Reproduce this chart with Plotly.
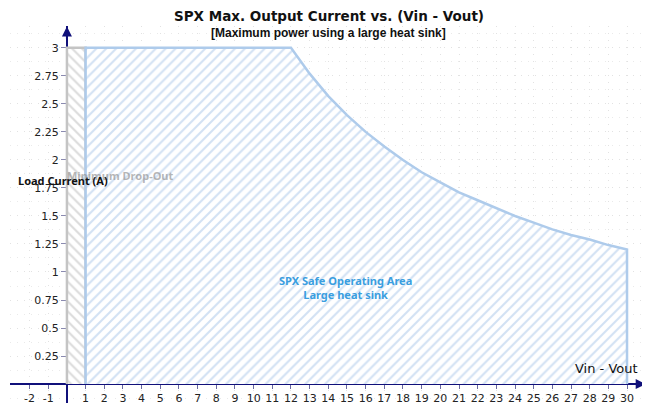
import plotly.graph_objects as go

# Vin - Vout (V) and max load current (A)
soa_x = [1, 1, 12, 13, 14, 15, 16, 17, 18, 19, 20, 21, 22, 23, 24, 25, 26, 27, 28, 29, 30, 30]
soa_y = [0, 3, 3, 2.77, 2.57, 2.4, 2.25, 2.12, 2.0, 1.89, 1.8, 1.71, 1.64, 1.57, 1.5, 1.44,
         1.38, 1.33, 1.29, 1.24, 1.2, 0]

dropout_x = [0, 0, 1, 1]
dropout_y = [0, 3, 3, 0]

x_ticks = [-2, -1] + list(range(1, 31))
x_tick_text = ["-2", "-1"] + [str(v) for v in range(1, 31)]
y_ticks = [0.25, 0.5, 0.75, 1, 1.25, 1.5, 1.75, 2, 2.25, 2.5, 2.75, 3]
y_tick_text = ["0.25", "0.5", "0.75", "1", "1.25", "1.5", "1.75", "2", "2.25", "2.5", "2.75", "3"]

x_range = [-3.05, 31.07]
y_range = [-0.169, 3.195]

navy = "#10107a"
tick_font = dict(family="DejaVu Sans", size=11, color="#222222")

fig = go.Figure()

fig.add_trace(go.Scatter(
    x=dropout_x, y=dropout_y, mode="lines", fill="toself",
    line=dict(color="#c4c4c4", width=2.5),
    fillcolor="rgba(0,0,0,0)",
    fillpattern=dict(shape="\\", fgcolor="#b8b8b8", bgcolor="white", size=7, solidity=0.3),
    hoverinfo="skip", showlegend=False,
))

fig.add_trace(go.Scatter(
    x=soa_x, y=soa_y, mode="lines", fill="toself",
    line=dict(color="#aecbeb", width=2.5),
    fillcolor="rgba(0,0,0,0)",
    fillpattern=dict(shape="/", fgcolor="#a6c4e8", bgcolor="white", size=7, solidity=0.3),
    hoverinfo="skip", showlegend=False,
))

# the page body has an 8px margin, so the figure is 8px smaller than the window
fig.update_layout(
    width=642, height=399,
    margin=dict(l=2, r=3, t=18, b=2),
    plot_bgcolor="white", paper_bgcolor="white",
    xaxis=dict(
        range=x_range, anchor="free",
        position=(0 - y_range[0]) / (y_range[1] - y_range[0]),
        tickvals=x_ticks, ticktext=x_tick_text, ticks="outside", ticklen=4,
        tickcolor="#6a6aa0", tickfont=tick_font,
        showline=True, linecolor=navy, linewidth=2, zeroline=False,
        showgrid=True, gridcolor="#e2e2e2", griddash="1px,6px", gridwidth=1,
        layer="below traces",
    ),
    yaxis=dict(
        range=y_range, anchor="free",
        position=(0 - x_range[0]) / (x_range[1] - x_range[0]),
        tickvals=y_ticks, ticktext=y_tick_text, ticks="outside", ticklen=5,
        tickcolor="#8a8ab0", tickfont=tick_font,
        showline=True, linecolor=navy, linewidth=2, zeroline=False,
        showgrid=True, gridcolor="#e2e2e2", griddash="1px,6px", gridwidth=1,
        minor=dict(dtick=0.125, showgrid=True, gridcolor="#eaeaea", griddash="1px,6px"),
        layer="below traces",
    ),
)

# axis arrow heads
fig.add_annotation(x=31.0, y=0, ax=-14, ay=0, text="", showarrow=True,
                   arrowhead=2, arrowsize=1, arrowwidth=2, arrowcolor=navy)
fig.add_annotation(x=0, y=3.19, ax=0, ay=14, text="", showarrow=True,
                   arrowhead=2, arrowsize=1, arrowwidth=2, arrowcolor=navy)

fig.add_annotation(text="<b>SPX Max. Output Current vs. (Vin - Vout)</b>",
                   xref="paper", yref="paper", x=0.5, y=1.0, yshift=20, yanchor="top",
                   showarrow=False, font=dict(family="DejaVu Sans", size=13.5, color="#111111"))
fig.add_annotation(text="<b>[Maximum power using a large heat sink]</b>",
                   xref="paper", yref="paper", x=0.5, y=1.0, yshift=2.5, yanchor="top",
                   showarrow=False, font=dict(family="Liberation Sans", size=12, color="#111111"))

fig.add_annotation(text="<b>Minimum Drop-Out</b>", x=2.85, y=1.86, showarrow=False,
                   font=dict(family="Noto Sans", size=11, color="rgba(150,150,150,0.7)"))
fig.add_annotation(text="<b>Load Current (A)</b>", x=-0.2, y=1.82, showarrow=False,
                   font=dict(family="Noto Sans", size=11, color="#111111"))
fig.add_annotation(text="<b>SPX Safe Operating Area<br>Large heat sink</b>", x=14.9, y=0.86,
                   showarrow=False,
                   font=dict(family="Noto Sans", size=11, color="#3a9ee0"))
fig.add_annotation(text="Vin - Vout", x=30.7, y=0.142, xanchor="right", showarrow=False,
                   font=dict(family="DejaVu Sans", size=13, color="#111111"))

fig.write_html("out.html")
